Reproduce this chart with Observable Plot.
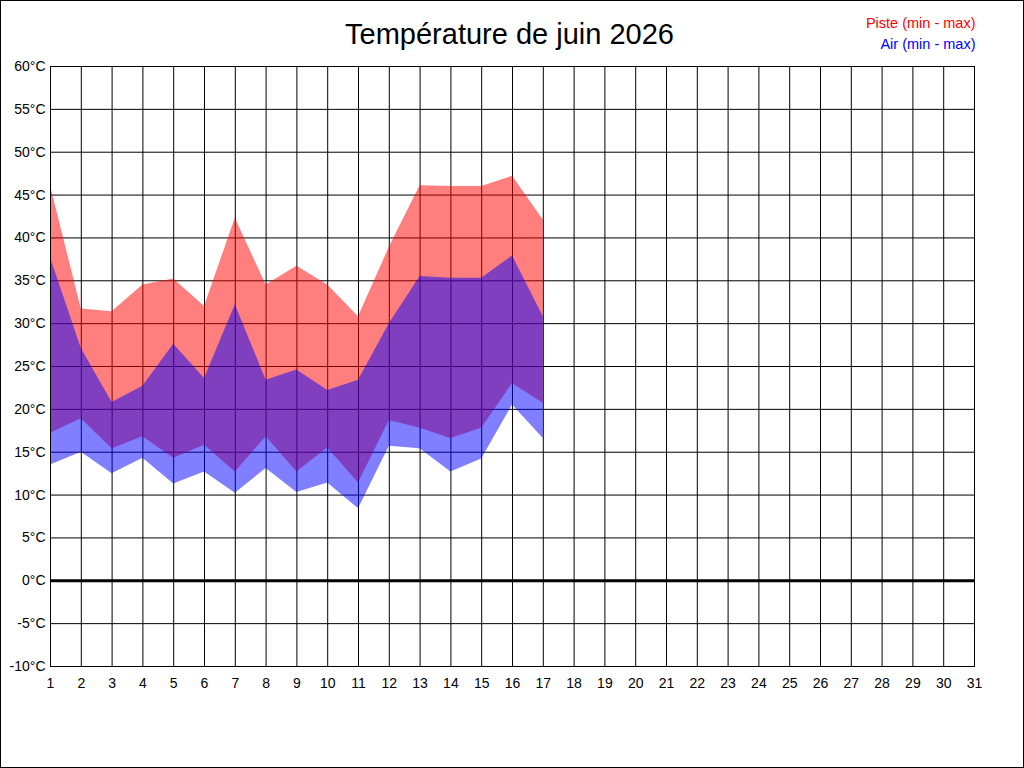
<!DOCTYPE html>
<html>
<head>
<meta charset="utf-8">
<script src="https://cdn.jsdelivr.net/npm/d3@7"></script>
<script src="https://cdn.jsdelivr.net/npm/@observablehq/plot@0.6"></script>
<style>
  body { margin: 0; background: #fff; }
  #wrap { position: relative; width: 1024px; height: 768px; overflow: hidden; }
  #border { position: absolute; left: 0; top: 0; width: 1024px; height: 768px; box-sizing: border-box; border: 1px solid #000; pointer-events: none; }
  svg { display: block; }
</style>
</head>
<body>
<div id="wrap"><div id="border"></div></div>
<script>
const title = "Température de juin 2026";
const days = [1, 2, 3, 4, 5, 6, 7, 8, 9, 10, 11, 12, 13, 14, 15, 16, 17];
const pisteMin = [17.2, 18.9, 15.4, 16.8, 14.3, 15.8, 12.7, 16.8, 12.7, 15.5, 11.4, 18.7, 17.8, 16.6, 17.8, 23.0, 20.7];
const pisteMax = [46.1, 31.7, 31.4, 34.5, 35.2, 32.0, 42.3, 34.5, 36.7, 34.5, 30.8, 38.9, 46.1, 46.0, 46.0, 47.2, 42.1];
const airMin = [13.5, 15.0, 12.5, 14.3, 11.3, 12.7, 10.2, 13.1, 10.3, 11.4, 8.4, 15.7, 15.4, 12.7, 14.2, 20.5, 16.6];
const airMax = [37.7, 27.1, 20.8, 22.7, 27.6, 23.6, 32.2, 23.4, 24.6, 22.2, 23.4, 30.0, 35.5, 35.3, 35.3, 37.9, 30.8];
const xTicks = d3.range(1, 32);
const yTicks = d3.range(-10, 61, 5);
const legendLabels = ["Piste (min - max)", "Air (min - max)"];

const piste = days.map((d, i) => ({day: d, min: pisteMin[i], max: pisteMax[i]}));
const air = days.map((d, i) => ({day: d, min: airMin[i], max: airMax[i]}));

const chart = Plot.plot({
  width: 1024,
  height: 768,
  marginLeft: 50,
  marginRight: 50,
  marginTop: 66,
  marginBottom: 102,
  style: {fontFamily: "Liberation Sans, Arial, sans-serif", fontSize: "14px", color: "#000", background: "#fff"},
  x: {domain: [1, 31], label: null},
  y: {domain: [-10, 60], label: null},
  marks: [
    Plot.gridX(xTicks, {stroke: "#000", strokeOpacity: 1, strokeWidth: 1}),
    Plot.gridY(yTicks, {stroke: "#000", strokeOpacity: 1, strokeWidth: 1}),
    Plot.areaY(piste, {x: "day", y1: "min", y2: "max", fill: "#ff0000", fillOpacity: 0.5}),
    Plot.areaY(air, {x: "day", y1: "min", y2: "max", fill: "#0000ff", fillOpacity: 0.5}),
    Plot.ruleY([0], {stroke: "#000", strokeWidth: 3}),
    Plot.frame({stroke: "#000", strokeWidth: 1}),
    Plot.axisX({ticks: xTicks, tickSize: 0, tickPadding: 12, tickFormat: d => String(d), fontSize: 14, label: null}),
    Plot.axisY({ticks: yTicks, tickSize: 0, tickPadding: 5, tickFormat: d => d + "°C", fontSize: 14, label: null}),
    Plot.text([title], {text: d => d, frameAnchor: "top", lineAnchor: "bottom", dy: -23, dx: -3, fontSize: 29, fill: "#000"}),
    Plot.text([legendLabels[0]], {text: d => d, frameAnchor: "top-right", textAnchor: "end", lineAnchor: "middle", dy: -43, dx: 1, fontSize: 14.5, fill: "#ff0000"}),
    Plot.text([legendLabels[1]], {text: d => d, frameAnchor: "top-right", textAnchor: "end", lineAnchor: "middle", dy: -22, dx: 1, fontSize: 14.5, fill: "#0000ff"})
  ]
});
document.getElementById("wrap").insertBefore(chart, document.getElementById("border"));
</script>
</body>
</html>
